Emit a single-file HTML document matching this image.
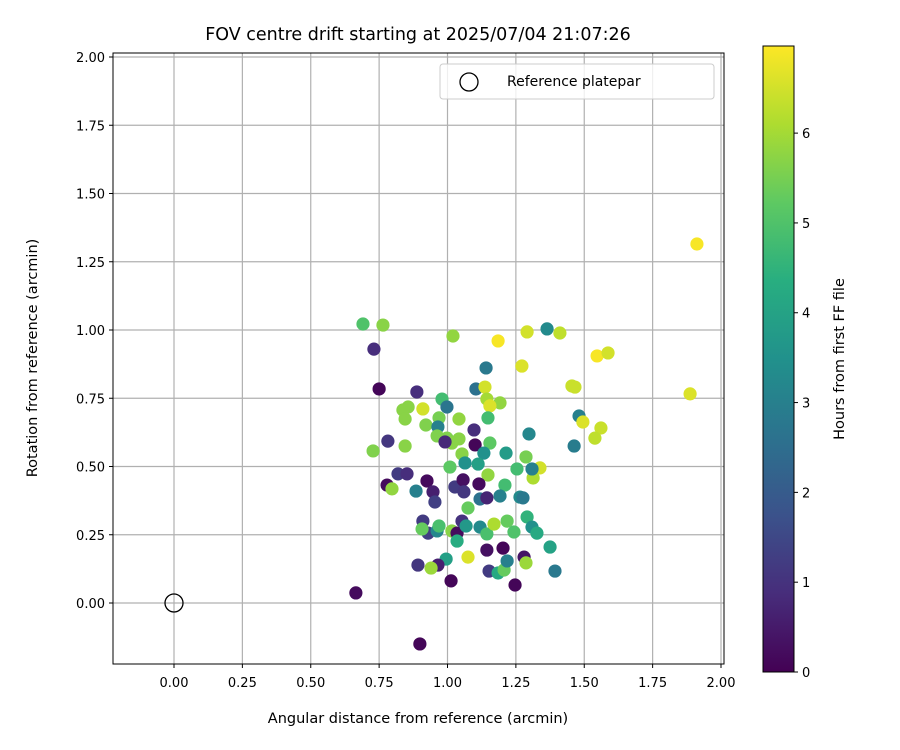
<!DOCTYPE html>
<html><head><meta charset="utf-8"><style>
body{margin:0;background:#fff;}
svg{display:block;font-family:"DejaVu Sans","Liberation Sans",sans-serif;}
</style></head><body>
<svg id="chart" width="900" height="750" viewBox="0 0 900 750" xmlns="http://www.w3.org/2000/svg">
<defs>
<linearGradient id="vir" x1="0" y1="1" x2="0" y2="0">
<stop offset="0" stop-color="#440154"/><stop offset="0.125" stop-color="#472d7b"/><stop offset="0.25" stop-color="#3b528b"/><stop offset="0.375" stop-color="#2c728e"/><stop offset="0.5" stop-color="#21918c"/><stop offset="0.625" stop-color="#28ae80"/><stop offset="0.75" stop-color="#5ec962"/><stop offset="0.875" stop-color="#addc30"/><stop offset="1" stop-color="#fde725"/>
</linearGradient>
<clipPath id="pc"><rect x="113" y="53" width="611" height="611"/></clipPath>
</defs>
<text x="418" y="40" font-size="17.5" text-anchor="middle">FOV centre drift starting at 2025/07/04 21:07:26</text>
<g id="grid"></g>
<g id="pts" clip-path="url(#pc)"></g>
<rect x="113" y="53" width="611" height="611" fill="none" stroke="#000" stroke-width="1"/>
<g id="ticks"></g>
<text x="418" y="723" font-size="14.5" text-anchor="middle">Angular distance from reference (arcmin)</text>
<text transform="translate(37,358) rotate(-90)" font-size="14.5" text-anchor="middle">Rotation from reference (arcmin)</text>
<g>
<rect x="440" y="64" width="274" height="35" rx="3" fill="#fff" fill-opacity="0.8" stroke="#ccc"/>
<circle cx="469" cy="82" r="9" fill="none" stroke="#000" stroke-width="1.3"/>
<text x="507" y="86" font-size="14">Reference platepar</text>
</g>
<rect x="763" y="46" width="31" height="626" fill="url(#vir)" stroke="#000"/>
<g id="cbticks"></g>
<text transform="translate(844,359) rotate(-90)" font-size="14.5" text-anchor="middle">Hours from first FF file</text>
</svg>
<script>
const xs=[0.691,0.764,1.020,1.185,1.291,1.364,1.411,0.731,1.141,1.272,0.750,0.888,1.104,1.137,0.980,0.998,1.144,1.192,1.155,0.856,0.837,0.910,0.845,0.969,1.148,1.042,0.921,0.965,1.097,0.962,1.042,0.998,1.016,0.991,1.101,1.155,1.133,1.214,1.287,1.298,0.782,0.845,0.728,1.053,1.009,1.064,1.112,1.148,1.254,1.338,1.313,1.210,1.309,0.779,0.797,0.819,0.852,0.885,0.925,0.947,0.954,1.027,1.057,1.060,1.115,1.119,1.144,1.192,1.075,1.265,1.276,1.291,1.309,1.327,1.375,1.393,0.910,0.929,0.907,0.962,0.969,1.016,1.035,1.035,1.053,1.068,1.119,1.144,1.170,1.218,1.243,1.144,1.203,1.075,0.995,0.892,0.965,0.940,1.013,1.152,1.185,1.207,1.218,1.280,1.287,1.247,0.665,0.899,1.547,1.587,1.455,1.466,1.887,1.481,1.495,1.561,1.539,1.463,1.912];
const ys=[1.022,1.018,0.978,0.960,0.993,1.004,0.989,0.930,0.861,0.868,0.784,0.773,0.784,0.791,0.747,0.718,0.747,0.733,0.722,0.718,0.707,0.711,0.674,0.678,0.678,0.674,0.652,0.645,0.634,0.612,0.601,0.604,0.586,0.590,0.579,0.586,0.549,0.549,0.535,0.619,0.593,0.575,0.557,0.546,0.498,0.513,0.509,0.469,0.491,0.495,0.458,0.432,0.491,0.432,0.418,0.473,0.473,0.410,0.447,0.407,0.370,0.425,0.451,0.407,0.436,0.381,0.385,0.392,0.348,0.388,0.385,0.315,0.278,0.256,0.205,0.117,0.300,0.256,0.271,0.264,0.282,0.264,0.256,0.227,0.300,0.282,0.278,0.253,0.289,0.300,0.260,0.194,0.201,0.168,0.161,0.139,0.139,0.128,0.081,0.117,0.110,0.121,0.154,0.168,0.147,0.066,0.037,-0.150,0.905,0.916,0.795,0.791,0.766,0.685,0.663,0.641,0.604,0.575,1.315];
const hours=[5.0,5.7,5.8,6.9,6.5,3.3,6.3,0.9,2.8,6.6,0.1,0.9,2.6,6.5,4.8,2.7,6.0,5.8,6.6,5.7,5.7,6.5,5.7,5.5,4.8,5.8,5.6,3.0,0.9,5.6,5.7,5.6,5.7,0.8,0.1,5.2,3.5,3.8,5.5,3.2,1.1,5.7,5.6,5.7,5.2,3.5,3.9,5.8,4.8,6.5,6.1,4.8,3.0,0.2,5.8,1.2,0.9,3.0,0.2,0.6,1.3,1.2,0.3,1.1,0.2,2.6,0.7,3.0,5.3,3.3,2.8,4.5,3.5,4.2,4.0,2.8,1.2,1.3,5.3,3.2,4.9,5.7,0.2,4.3,1.0,3.7,3.3,4.9,6.1,5.3,5.0,0.3,0.1,6.6,3.9,1.1,0.6,5.9,0.1,1.2,4.2,5.3,3.0,0.4,5.9,0.1,0.2,0.1,6.9,6.5,6.4,6.4,6.6,3.0,6.6,6.4,6.3,2.9,6.9];
const xTicks=["0.00","0.25","0.50","0.75","1.00","1.25","1.50","1.75","2.00"];
const yTicks=["0.00","0.25","0.50","0.75","1.00","1.25","1.50","1.75","2.00"];
const cbTicks=["0","1","2","3","4","5","6"];
const HMAX=6.97;
const NS="http://www.w3.org/2000/svg";
function X(v){return 174+v*273.5;}
function Y(v){return 603-v*273;}
function CB(h){return 672-h*(626/HMAX);}
const stops=[[68,1,84],[71,45,123],[59,82,139],[44,114,142],[33,145,140],[40,174,128],[94,201,98],[173,220,48],[253,231,37]];
function vir(t){t=Math.max(0,Math.min(1,t));const p=t*8,i=Math.min(7,Math.floor(p)),f=p-i;const a=stops[i],b=stops[i+1];return "rgb("+a.map((c,k)=>Math.round(c+(b[k]-c)*f)).join(",")+")";}
function mk(tag,attrs,parent){const e=document.createElementNS(NS,tag);for(const k in attrs)e.setAttribute(k,attrs[k]);parent.appendChild(e);return e;}
const grid=document.getElementById('grid'),ticks=document.getElementById('ticks'),pts=document.getElementById('pts'),cbt=document.getElementById('cbticks');
xTicks.forEach(s=>{const v=parseFloat(s),x=X(v);
const g=mk('line',{x1:x,x2:x,y1:53,y2:664,stroke:'#b0b0b0','stroke-width':1.2},grid);


mk('line',{x1:x,x2:x,y1:664,y2:668,stroke:'#000'},ticks);
const t=mk('text',{x:x,y:687,'font-size':13,'text-anchor':'middle'},ticks);t.textContent=s;

});
yTicks.forEach(s=>{const v=parseFloat(s),y=Y(v);
const g=mk('line',{x1:113,x2:724,y1:y,y2:y,stroke:'#b0b0b0','stroke-width':1.2},grid);


mk('line',{x1:109,x2:113,y1:y,y2:y,stroke:'#000'},ticks);
const t=mk('text',{x:105,y:y+5,'font-size':13,'text-anchor':'end'},ticks);t.textContent=s;

});
for(let i=0;i<xs.length;i++){
const c=mk('circle',{cx:X(xs[i]),cy:Y(ys[i]),r:6.6,fill:vir(hours[i]/HMAX)},pts);

}
const ref=mk('circle',{cx:X(0),cy:Y(0),r:9,fill:'none',stroke:'#000','stroke-width':1.3},pts);


cbTicks.forEach(s=>{const y=CB(parseFloat(s));
mk('line',{x1:794,x2:798,y1:y,y2:y,stroke:'#000'},cbt);
const t=mk('text',{x:802,y:y+5,'font-size':13},cbt);t.textContent=s;

});
</script>
</body></html>
